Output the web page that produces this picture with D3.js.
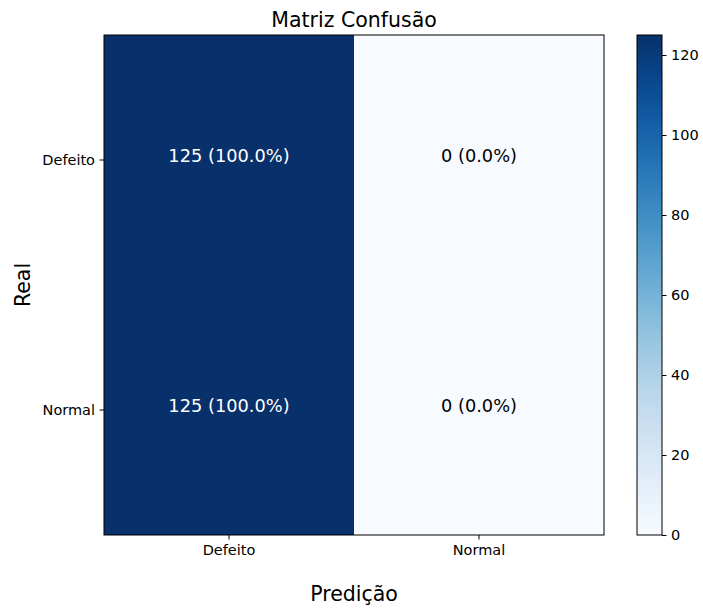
<!DOCTYPE html>
<html>
<head>
<meta charset="utf-8">
<script src="https://cdn.jsdelivr.net/npm/d3@7"></script>
<style>
  html, body { margin: 0; padding: 0; background: #fff; }
  svg { display: block; font-family: "DejaVu Sans", sans-serif; }
</style>
</head>
<body>
<svg id="chart" width="703" height="608"></svg>
<script>
// Confusion matrix: rows = actual class, columns = predicted class
const realLabels = ["Defeito", "Normal"];
const predLabels = ["Defeito", "Normal"];
const counts = [
  [125, 0],
  [125, 0]
];
const colorbarTicks = [0, 20, 40, 60, 80, 100, 120];

const svg = d3.select("#chart");
const plot = { left: 104, top: 35, width: 500, height: 500 };
const cbar = { left: 637, top: 35, width: 25, height: 500 };

const maxVal = d3.max(counts.flat());
const color = d3.scaleSequential(d3.interpolateBlues).domain([0, maxVal]);

const x = d3.scaleBand().domain(predLabels).range([plot.left, plot.left + plot.width]);
const y = d3.scaleBand().domain(realLabels).range([plot.top, plot.top + plot.height]);

// row totals give the percentage shown in each cell
const cells = [];
realLabels.forEach((r, i) => {
  const total = d3.sum(counts[i]);
  predLabels.forEach((p, j) => {
    cells.push({ r, p, v: counts[i][j], pct: total ? counts[i][j] / total * 100 : 0 });
  });
});

svg.append("g").selectAll("rect").data(cells).join("rect")
  .attr("x", d => x(d.p))
  .attr("y", d => y(d.r))
  .attr("width", x.bandwidth())
  .attr("height", y.bandwidth())
  .attr("fill", d => color(d.v));

svg.append("g").selectAll("text").data(cells).join("text")
  .attr("x", d => x(d.p) + x.bandwidth() / 2)
  .attr("y", d => y(d.r) + y.bandwidth() / 2 - 5)
  .attr("text-anchor", "middle")
  .attr("dominant-baseline", "central")
  .attr("font-size", 17.8)
  .attr("fill", d => d.v > maxVal / 2 ? "#fff" : "#000")
  .text(d => `${d.v} (${d.pct.toFixed(1)}%)`);

// frame
svg.append("rect")
  .attr("x", plot.left).attr("y", plot.top)
  .attr("width", plot.width).attr("height", plot.height)
  .attr("fill", "none").attr("stroke", "#000").attr("stroke-width", 1);

// axes
const xAxis = svg.append("g")
  .attr("transform", `translate(0,${plot.top + plot.height})`)
  .call(d3.axisBottom(x).tickSize(4.5).tickPadding(5));
const yAxis = svg.append("g")
  .attr("transform", `translate(${plot.left},0)`)
  .call(d3.axisLeft(y).tickSize(4.5).tickPadding(4.5));
[xAxis, yAxis].forEach(a => {
  a.select(".domain").remove();
  a.selectAll("text").attr("font-size", 14.5).attr("fill", "#000").attr("font-family", "DejaVu Sans, sans-serif");
  a.selectAll("line").attr("stroke", "#000");
});

// titles
svg.append("text")
  .attr("x", plot.left + plot.width / 2).attr("y", 27)
  .attr("text-anchor", "middle").attr("font-size", 20.5)
  .text("Matriz Confusão");
svg.append("text")
  .attr("x", plot.left + plot.width / 2).attr("y", 601)
  .attr("text-anchor", "middle").attr("font-size", 20.5)
  .text("Predição");
svg.append("text")
  .attr("transform", `translate(30,${plot.top + plot.height / 2}) rotate(-90)`)
  .attr("text-anchor", "middle").attr("font-size", 20.5)
  .text("Real");

// colorbar
const defs = svg.append("defs");
const grad = defs.append("linearGradient").attr("id", "cbgrad")
  .attr("x1", 0).attr("y1", 1).attr("x2", 0).attr("y2", 0);
d3.range(0, 1.0001, 0.05).forEach(t => {
  grad.append("stop").attr("offset", t).attr("stop-color", d3.interpolateBlues(t));
});
svg.append("rect")
  .attr("x", cbar.left).attr("y", cbar.top)
  .attr("width", cbar.width).attr("height", cbar.height)
  .attr("fill", "url(#cbgrad)").attr("stroke", "#000").attr("stroke-width", 1);

const cy = d3.scaleLinear().domain([0, maxVal]).range([cbar.top + cbar.height, cbar.top]);
const cAxis = svg.append("g")
  .attr("transform", `translate(${cbar.left + cbar.width},0)`)
  .call(d3.axisRight(cy).tickValues(colorbarTicks).tickSize(4.5).tickPadding(4.5));
cAxis.select(".domain").remove();
cAxis.selectAll("text").attr("font-size", 14.5).attr("fill", "#000").attr("font-family", "DejaVu Sans, sans-serif");
cAxis.selectAll("line").attr("stroke", "#000");
</script>
</body>
</html>
